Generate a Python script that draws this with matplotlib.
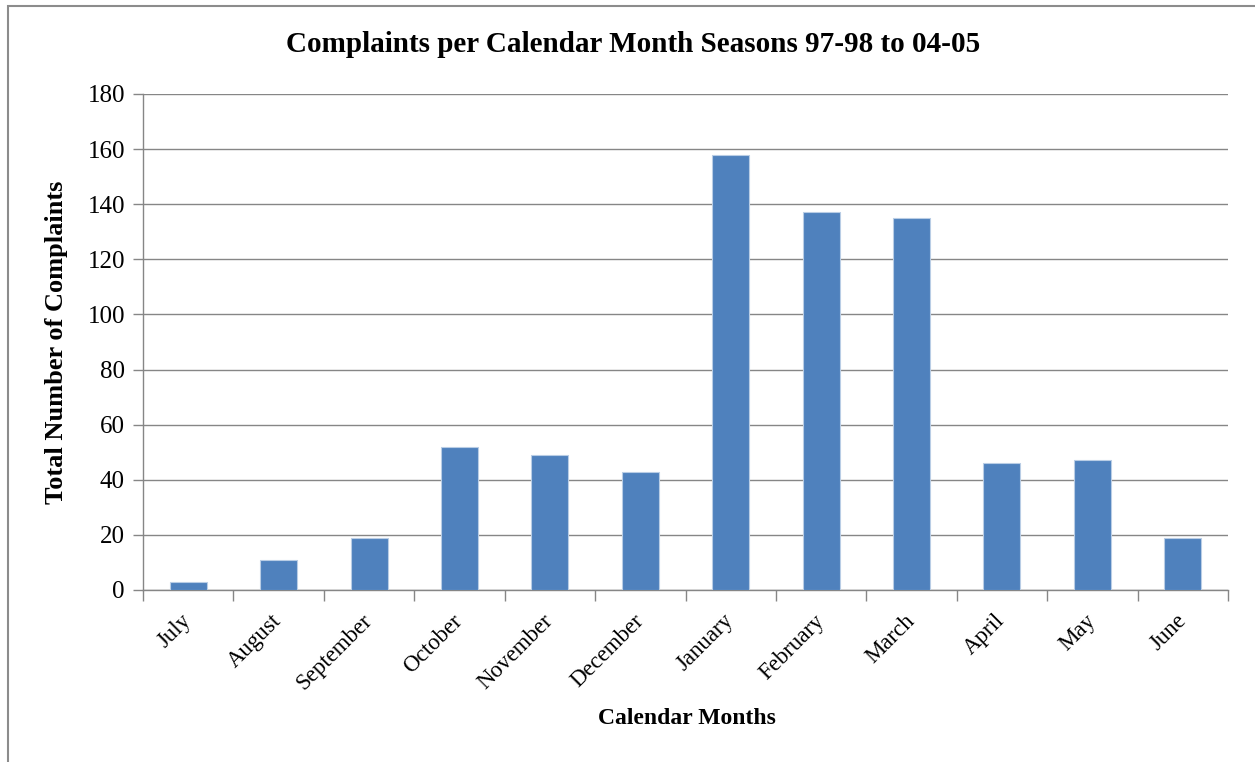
import matplotlib
matplotlib.use("Agg")
import matplotlib.pyplot as plt
from matplotlib.patches import Rectangle

months = ["July", "August", "September", "October", "November", "December",
          "January", "February", "March", "April", "May", "June"]
complaints = [3, 11, 19, 52, 49, 43, 158, 137, 135, 46, 47, 19]
yticks = [0, 20, 40, 60, 80, 100, 120, 140, 160, 180]

plt.rcParams['font.family'] = ['Liberation Serif', 'DejaVu Serif']

W, H = 1255, 762
fig = plt.figure(figsize=(W / 100, H / 100), dpi=100)
fig.patch.set_facecolor("white")

# outer chart frame
fig.add_artist(Rectangle((8 / W, -0.05), 1.2, (H - 6) / H + 0.05, transform=fig.transFigure,
                         fill=False, edgecolor="#8c8c8c", linewidth=1.5))

left, right, top, bottom = 143, 1228, 94, 590
ax = fig.add_axes([left / W, 1 - bottom / H, (right - left) / W, (bottom - top) / H])

x = list(range(len(months)))
ax.bar(x, complaints, width=0.41, color="#4F81BD", edgecolor="#b9cde5", linewidth=0.8, zorder=3)

ax.set_xlim(-0.5, len(months) - 0.5)
ax.set_ylim(0, 180)
ax.set_yticks(yticks)
ax.set_yticklabels([str(v) for v in yticks], fontsize=18)
ax.yaxis.grid(True, color="#868686", linewidth=1.0, zorder=0)
ax.tick_params(axis='y', length=7, width=1, color="#868686", pad=6)

ax.set_xticks([i - 0.5 for i in range(len(months) + 1)], minor=False)
ax.set_xticklabels([])
ax.tick_params(axis='x', which='major', length=8, width=1, color="#868686")
ax.set_xticks(x, minor=True)
ax.set_xticklabels(months, minor=True, rotation=45, ha='right', va='center',
                   rotation_mode='anchor', fontsize=16.5)
ax.tick_params(axis='x', which='minor', length=0, pad=20)

for s in ['top', 'right']:
    ax.spines[s].set_visible(False)
for s in ['left', 'bottom']:
    ax.spines[s].set_color("#868686")
    ax.spines[s].set_linewidth(1.0)

fig.text(633 / W, 1 - 45 / H, "Complaints per Calendar Month Seasons 97-98 to 04-05",
         ha='center', va='center', fontsize=21, fontweight='bold')
fig.text(687 / W, 1 - 718 / H, "Calendar Months", ha='center', va='center',
         fontsize=17, fontweight='bold')
fig.text(57 / W, 1 - 342 / H, "Total Number of Complaints", ha='center', va='center',
         rotation=90, fontsize=19, fontweight='bold')

fig.savefig("out.png", dpi=100)
